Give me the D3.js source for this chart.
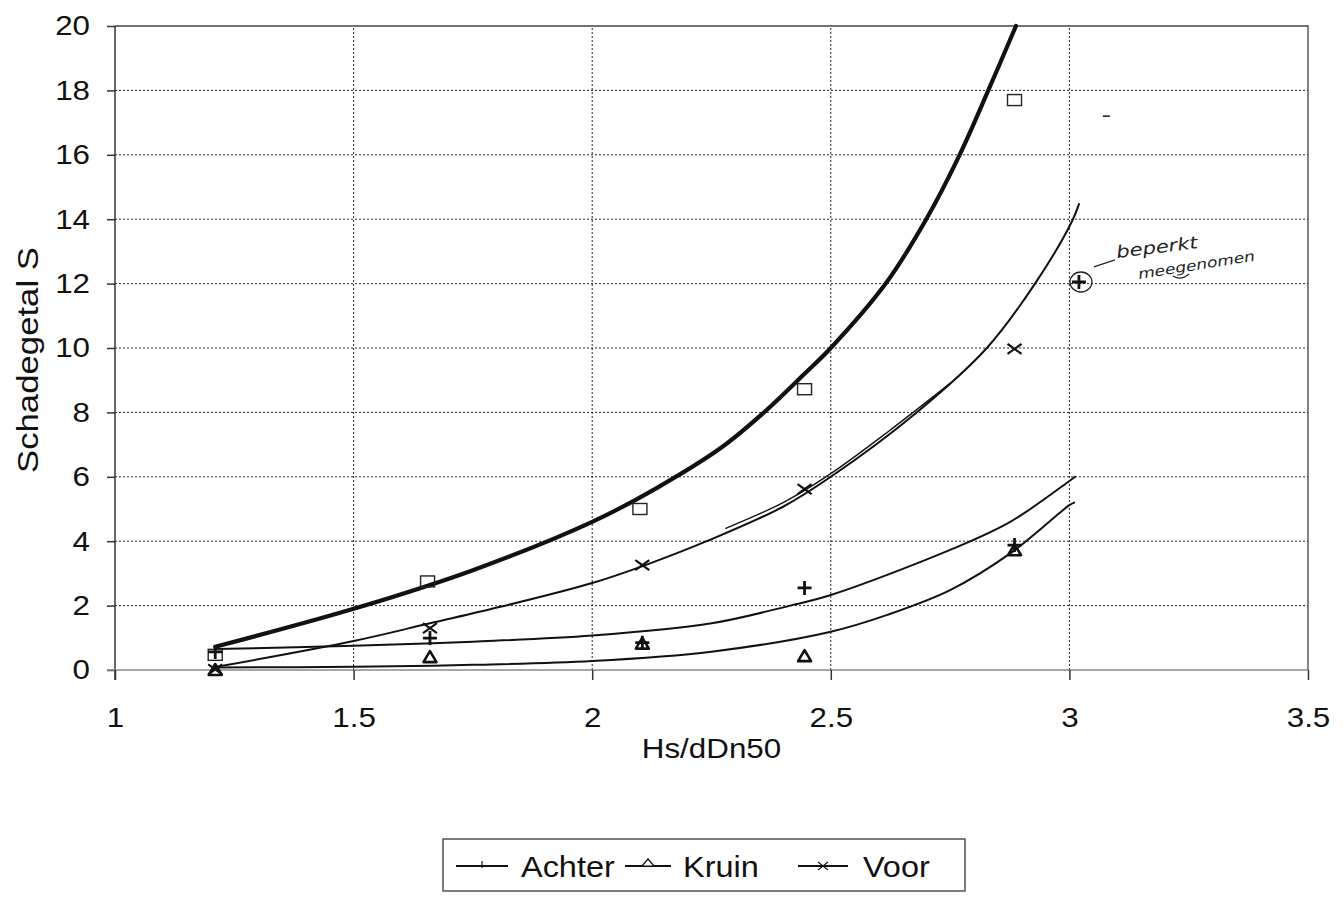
<!DOCTYPE html>
<html>
<head>
<meta charset="utf-8">
<script src="https://cdn.jsdelivr.net/npm/d3@7/dist/d3.min.js"></script>
<style>
  html, body { margin: 0; padding: 0; background: #fff; }
  svg { display: block; font-family: "Liberation Sans", Arial, sans-serif; }
</style>
</head>
<body>
<svg id="chart" width="1343" height="899"></svg>
<script>
// Axis ticks
const xTicks = [1, 1.5, 2, 2.5, 3, 3.5];
const yTicks = [0, 2, 4, 6, 8, 10, 12, 14, 16, 18, 20];

// Measured damage numbers S against Hs/dDn50
const hsTotaal = [1.21, 1.655, 2.10, 2.445, 2.885];
const sTotaal  = [0.47, 2.75, 5.0, 8.72, 17.7];

const hsAchter = [1.21, 1.66, 2.105, 2.445, 2.885, 3.02];
const sAchter  = [0.56, 0.99, 0.85, 2.55, 3.88, 12.05];

const hsKruin = [1.21, 1.66, 2.105, 2.445, 2.885];
const sKruin  = [0.0, 0.4, 0.82, 0.43, 3.72];

const hsVoor = [1.21, 1.66, 2.105, 2.445, 2.885];
const sVoor  = [0.02, 1.3, 3.26, 5.62, 9.97];

// Fitted trend curves (Hs/dDn50, S)
const trendTotaal = [[1.21, 0.72], [1.5, 1.9], [1.75, 3.1], [2.0, 4.6], [2.135, 5.65], [2.27, 6.9],
                     [2.36, 8.0], [2.445, 9.2], [2.5, 10], [2.615, 12], [2.70, 14], [2.77, 16],
                     [2.83, 18], [2.888, 20]];
const trendVoor   = [[1.21, 0.09], [1.5, 0.9], [1.66, 1.45], [1.81, 1.97], [2.0, 2.7], [2.11, 3.25],
                     [2.24, 4.0], [2.40, 5.07], [2.50, 6.0], [2.68, 8.0], [2.827, 10],
                     [2.928, 12], [3.005, 13.92], [3.02, 14.47]];
const trendVoorRedraw = [[2.28, 4.4], [2.40, 5.2], [2.50, 6.1], [2.62, 7.4], [2.75, 8.9]];
const trendAchter = [[1.21, 0.65], [1.5, 0.75], [1.75, 0.88], [2.0, 1.07], [2.25, 1.45], [2.415, 2.0],
                     [2.5, 2.33], [2.75, 3.73], [2.876, 4.6], [3.0, 5.87], [3.012, 6.0]];
const trendKruin  = [[1.21, 0.08], [1.5, 0.1], [1.75, 0.16], [2.0, 0.28], [2.25, 0.57], [2.5, 1.19],
                     [2.62, 1.72], [2.75, 2.48], [2.876, 3.62], [3.0, 5.12], [3.01, 5.2]];

const legendNames = ["Achter", "Kruin", "Voor"];

const svg = d3.select("#chart");
const margin = { left: 115, right: 35, top: 26, bottom: 229 };
const W = 1343, H = 899;
const x = d3.scaleLinear().domain([1, 3.5]).range([margin.left, W - margin.right]);
const y = d3.scaleLinear().domain([0, 20]).range([H - margin.bottom, margin.top]);
const ink = "#111";
const stretch = 1.12;

svg.append("rect").attr("width", W).attr("height", H).attr("fill", "#fff");

// Dotted gridlines
const grid = svg.append("g").attr("stroke", "#222").attr("stroke-width", 1)
  .attr("stroke-dasharray", "2,2").attr("fill", "none");
grid.selectAll("line.h").data(yTicks.filter(d => d > 0 && d < 20)).join("line")
  .attr("x1", x(1)).attr("x2", x(3.5)).attr("y1", d => y(d)).attr("y2", d => y(d));
grid.selectAll("line.v").data(xTicks.filter(d => d > 1 && d < 3.5)).join("line")
  .attr("y1", y(0)).attr("y2", y(20)).attr("x1", d => x(d)).attr("x2", d => x(d));

// Plot frame (top and right)
svg.append("path")
  .attr("d", `M${x(1)},${y(20)}H${x(3.5)}V${y(0)}`)
  .attr("fill", "none").attr("stroke", "#444").attr("stroke-width", 1.3);

// Axes
const yAxis = svg.append("g").attr("transform", `translate(${x(1)},0)`)
  .call(d3.axisLeft(y).tickValues(yTicks).tickSize(8).tickPadding(17).tickFormat(d3.format("d")));
const xAxis = svg.append("g").attr("transform", `translate(0,${y(0)})`)
  .call(d3.axisBottom(x).tickValues(xTicks).tickSize(10).tickPadding(27).tickFormat(d => String(d)));

yAxis.select(".domain").attr("stroke", "#333").attr("stroke-width", 1.5).attr("d", `M0,${y(20)}V${y(0) + 10}`);
xAxis.select(".domain").attr("stroke", "#888").attr("stroke-width", 1.6).attr("d", `M${x(1) - 8},0H${x(3.5)}`);
svg.selectAll(".tick line").attr("stroke", "#333").attr("stroke-width", 1.5);
svg.selectAll(".tick text").attr("fill", ink).attr("font-size", 28)
  .attr("font-family", "Liberation Sans, Arial, sans-serif");
yAxis.selectAll(".tick text").each(function () {
  const t = d3.select(this);
  t.attr("x", +t.attr("x") / stretch).attr("transform", `scale(${stretch},1)`);
});
xAxis.selectAll(".tick text").attr("transform", `scale(${stretch},1)`);

// Axis titles
svg.append("text").attr("x", (x(1) + x(3.5)) / 2 / stretch).attr("y", 758)
  .attr("transform", `scale(${stretch},1)`)
  .attr("text-anchor", "middle").attr("font-size", 28).attr("fill", ink).text("Hs/dDn50");
svg.append("text").attr("transform", "translate(38,360) rotate(-90)")
  .attr("text-anchor", "middle").attr("font-size", 30).attr("fill", ink)
  .attr("textLength", 226).attr("lengthAdjust", "spacingAndGlyphs").text("Schadegetal S");

// Trend curves
const curve = d3.line().x(d => x(d[0])).y(d => y(d[1])).curve(d3.curveCatmullRom.alpha(0.5));
const curves = svg.append("g").attr("fill", "none").attr("stroke", ink)
  .attr("stroke-linecap", "round").attr("stroke-linejoin", "round");
curves.append("path").attr("d", curve(trendTotaal)).attr("stroke-width", 4.2);
curves.append("path").attr("d", curve(trendVoor)).attr("stroke-width", 2);
curves.append("path").attr("d", curve(trendVoorRedraw)).attr("stroke-width", 1.4);
curves.append("path").attr("d", curve(trendAchter)).attr("stroke-width", 2);
curves.append("path").attr("d", curve(trendKruin)).attr("stroke-width", 2);

// Marker shapes
function drawMarker(g, kind, cx, cy, s) {
  if (kind === "square") {
    g.append("rect").attr("x", cx - 7).attr("y", cy - 5.5).attr("width", 14).attr("height", 11)
      .attr("fill", "none").attr("stroke", "#222").attr("stroke-width", 1.4);
  } else if (kind === "plus") {
    g.append("path").attr("d", `M${cx - 7},${cy}H${cx + 7}M${cx},${cy - 7}V${cy + 7}`)
      .attr("stroke", ink).attr("stroke-width", s || 2.8).attr("fill", "none");
  } else if (kind === "triangle") {
    g.append("path").attr("d", `M${cx},${cy - 6}L${cx + 6.5},${cy + 5}L${cx - 6.5},${cy + 5}Z`)
      .attr("stroke", ink).attr("stroke-width", s || 2.6).attr("fill", "none").attr("stroke-linejoin", "round");
  } else if (kind === "cross") {
    g.append("path").attr("d", `M${cx - 7},${cy - 5}L${cx + 7},${cy + 5}M${cx - 7},${cy + 5}L${cx + 7},${cy - 5}`)
      .attr("stroke", ink).attr("stroke-width", s || 2.2).attr("fill", "none");
  }
}

const marks = svg.append("g");
hsTotaal.forEach((h, i) => drawMarker(marks, "square", x(h), y(sTotaal[i])));
hsKruin.forEach((h, i) => drawMarker(marks, "triangle", x(h), y(sKruin[i])));
hsVoor.forEach((h, i) => drawMarker(marks, "cross", x(h), y(sVoor[i])));
hsAchter.forEach((h, i) => drawMarker(marks, "plus", x(h), y(sAchter[i])));

// Handwritten note at the last Achter point
const last = hsAchter.length - 1;
const px = x(hsAchter[last]), py = y(sAchter[last]);
const note = svg.append("g").attr("fill", "none").attr("stroke", "#222").attr("stroke-width", 1.3);
note.append("ellipse").attr("cx", px + 2).attr("cy", py).attr("rx", 11).attr("ry", 10);
note.append("path").attr("d", `M${px + 15},${py - 15}L${px + 36},${py - 22}`);
note.append("path").attr("d", `M${px + 94},${py - 6}q8,5 16,-2`);
svg.append("text").attr("transform", `translate(${px + 38},${py - 24}) rotate(-7)`)
  .attr("font-family", "DejaVu Sans, sans-serif").attr("font-style", "italic")
  .attr("font-size", 17).attr("fill", "#222").attr("textLength", 82)
  .attr("lengthAdjust", "spacingAndGlyphs").text("beperkt");
svg.append("text").attr("transform", `translate(${px + 60},${py - 3}) rotate(-9)`)
  .attr("font-family", "DejaVu Sans, sans-serif").attr("font-style", "italic")
  .attr("font-size", 14).attr("fill", "#222").attr("textLength", 118)
  .attr("lengthAdjust", "spacingAndGlyphs").text("meegenomen");
svg.append("path").attr("d", `M${x(3.07)},${y(17.2)}h7`).attr("stroke", "#222").attr("stroke-width", 1.6);

// Legend
const lg = svg.append("g");
lg.append("rect").attr("x", 443).attr("y", 839).attr("width", 522).attr("height", 52)
  .attr("fill", "#fff").attr("stroke", "#444").attr("stroke-width", 1.4);
const legendItems = [
  { name: legendNames[0], kind: "plus", x1: 456, x2: 508, tx: 521 },
  { name: legendNames[1], kind: "triangle", x1: 625, x2: 671, tx: 683 },
  { name: legendNames[2], kind: "cross", x1: 798, x2: 848, tx: 863 }
];
legendItems.forEach(it => {
  const ly = 866;
  lg.append("line").attr("x1", it.x1).attr("x2", it.x2).attr("y1", ly).attr("y2", ly)
    .attr("stroke", ink).attr("stroke-width", 2.2);
  const g = lg.append("g");
  if (it.kind === "plus") {
    g.append("path").attr("d", `M${(it.x1 + it.x2) / 2},${ly - 5}V${ly + 2}`).attr("stroke", ink).attr("stroke-width", 1.2);
  } else if (it.kind === "triangle") {
    const cx = (it.x1 + it.x2) / 2;
    g.append("path").attr("d", `M${cx},${ly - 7}L${cx + 6},${ly}L${cx - 6},${ly}Z`)
      .attr("fill", "#fff").attr("stroke", ink).attr("stroke-width", 1.2);
  } else {
    const cx = (it.x1 + it.x2) / 2;
    g.append("path").attr("d", `M${cx - 5},${ly - 4}L${cx + 5},${ly + 4}M${cx - 5},${ly + 4}L${cx + 5},${ly - 4}`)
      .attr("stroke", ink).attr("stroke-width", 1.1);
  }
  lg.append("text").attr("x", it.tx / stretch).attr("y", 877).attr("transform", `scale(${stretch},1)`)
    .attr("font-size", 29).attr("fill", ink).text(it.name);
});
</script>
</body>
</html>
